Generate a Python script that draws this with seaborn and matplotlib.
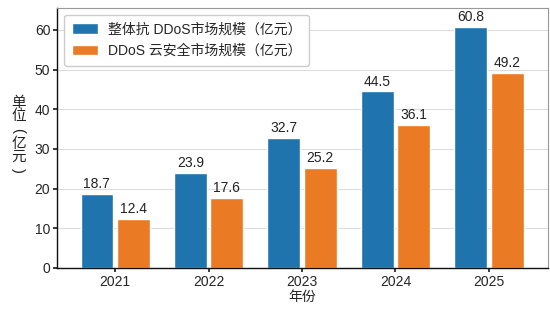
import pandas as pd
import seaborn as sns
from matplotlib import pyplot as plt

years = ["2021", "2022", "2023", "2024", "2025"]
total_ddos = [18.7, 23.9, 32.7, 44.5, 60.8]
cloud_ddos = [12.4, 17.6, 25.2, 36.1, 49.2]
series_names = ["整体抗 DDoS市场规模（亿元）", "DDoS 云安全市场规模（亿元）"]
ylabel_chars = ["单", "位", "(", "亿", "元", ")"]

sns.set_theme(style="whitegrid")
plt.rcParams['font.family'] = ['Liberation Sans', 'Noto Sans CJK SC']

df = pd.DataFrame({
    "年份": years * 2,
    "value": total_ddos + cloud_ddos,
    "series": [series_names[0]] * len(years) + [series_names[1]] * len(years),
})

fig, ax = plt.subplots(figsize=(5.5, 3.09), dpi=100)
sns.barplot(data=df, x="年份", y="value", hue="series", ax=ax,
            palette=["#1f74ad", "#ea7a24"], width=0.78, gap=0.1,
            saturation=1, errorbar=None)

for cont in ax.containers:
    ax.bar_label(cont, fmt="%.1f", padding=2, fontsize=10, color="#222222")

ax.set_ylim(0, 65.6)
ax.set_xlim(-0.62, 4.63)
ax.set_yticks(range(0, 61, 10))
ax.set_xlabel("年份", fontsize=10, labelpad=1)
ax.set_ylabel("")

# vertical stacked y label, brackets turned sideways
step = 0.052
y0 = 0.504 + step * (len(ylabel_chars) - 1) / 2
for i, ch in enumerate(ylabel_chars):
    rot = -90 if ch in "()" else 0
    ax.text(-0.079, y0 - i * step, ch, transform=ax.transAxes, rotation=rot,
            ha="center", va="center", fontsize=10.5, color="#222222")

ax.tick_params(axis="both", labelsize=10, length=3, color="#222222", pad=2)
ax.tick_params(axis="both", which="both", left=True, bottom=True)
ax.grid(axis="x", visible=False)
ax.grid(axis="y", color="#dddddd", linewidth=0.8)

for side in ["left", "bottom"]:
    ax.spines[side].set_color("#111111")
    ax.spines[side].set_linewidth(1.0)
for side in ["top", "right"]:
    ax.spines[side].set_color("#999999")
    ax.spines[side].set_linewidth(0.8)

ax.legend(loc="upper left", fontsize=10, frameon=True, framealpha=1,
          edgecolor="#cccccc", borderaxespad=0.5, handlelength=1.9,
          handleheight=0.8, handletextpad=0.7, labelspacing=0.55,
          borderpad=0.55)

fig.subplots_adjust(left=0.104, right=0.996, top=0.975, bottom=0.133)
fig.savefig("out.png", dpi=100)
